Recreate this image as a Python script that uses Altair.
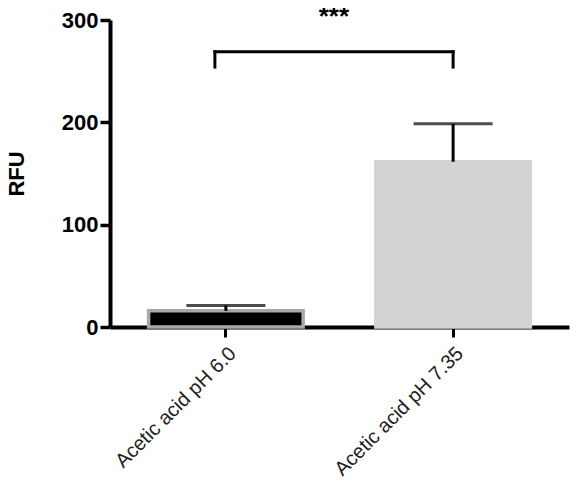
import altair as alt
import pandas as pd

categories = ["Acetic acid pH 6.0", "Acetic acid pH 7.35"]
means = [15.8, 161.5]
upper = [21.0, 198.5]
fills = ["#000000", "#d3d3d3"]
strokes = ["#a8a8a8", "#d3d3d3"]

bracket_y = [269]
bracket_low = [254]
stars = ["***"]
stars_y = [295.5]

df = pd.DataFrame({"cat": categories, "mean": means, "upper": upper,
                   "fill": fills, "stroke": strokes})
br = pd.DataFrame({"a": [categories[0]], "b": [categories[1]],
                   "y": bracket_y, "y2": bracket_low, "t": stars, "ty": stars_y})

xscale = alt.Scale(domain=categories, paddingInner=0.32, paddingOuter=0.17)
yscale = alt.Scale(domain=[0, 300], nice=False)

x = alt.X("cat:N", scale=xscale, sort=categories, title=None,
          axis=alt.Axis(labelAngle=-45, labelFontSize=20, labelFont="Liberation Sans",
                        labelColor="#222222", tickSize=10, tickWidth=3, tickColor="black",
                        domainWidth=4, domainColor="black", labelPadding=6,
                        labelAlign="right", labelBaseline="top"))
y = alt.Y("mean:Q", scale=yscale, title="RFU",
          axis=alt.Axis(values=[0, 100, 200, 300], grid=False, labelFontSize=22,
                        labelFontWeight="bold", labelFont="Liberation Sans",
                        labelColor="black", tickSize=10, tickWidth=3.5, tickColor="black",
                        domainWidth=4, domainColor="black", labelPadding=2,
                        titleFontSize=22, titleFontWeight="bold", titleFont="Liberation Sans",
                        titleColor="black", titlePadding=33))

base = alt.Chart(df)
bars = base.mark_bar(strokeWidth=3.5).encode(
    x=x, y=y,
    fill=alt.Fill("fill:N", scale=None),
    stroke=alt.Stroke("stroke:N", scale=None),
)
err = base.mark_rule(strokeWidth=3, color="black").encode(
    x=alt.X("cat:N", scale=xscale, sort=categories),
    y=alt.Y("mean:Q", scale=yscale),
    y2="upper:Q",
)
caps = base.mark_tick(thickness=3, size=79, color="black", orient="horizontal").encode(
    x=alt.X("cat:N", scale=xscale, sort=categories),
    y=alt.Y("upper:Q", scale=yscale),
)

bb = alt.Chart(br)
top = bb.mark_rule(strokeWidth=3, color="black", xOffset=-11, strokeCap="square").encode(
    x=alt.X("a:N", scale=xscale), x2="b:N",
    y=alt.Y("y:Q", scale=yscale),
)
leg1 = bb.mark_rule(strokeWidth=3, color="black", xOffset=-11, strokeCap="square").encode(
    x=alt.X("a:N", scale=xscale),
    y=alt.Y("y2:Q", scale=yscale), y2="y:Q",
)
leg2 = bb.mark_rule(strokeWidth=3, color="black", strokeCap="square").encode(
    x=alt.X("b:N", scale=xscale),
    y=alt.Y("y2:Q", scale=yscale), y2="y:Q",
)
txt = bb.mark_text(fontSize=26, fontWeight="bold", font="Liberation Sans",
                   baseline="alphabetic", align="center", xOffset=108, color="black").encode(
    x=alt.X("a:N", scale=xscale),
    y=alt.Y("ty:Q", scale=yscale),
    text="t:N",
)

chart = alt.layer(bars, err, caps, top, leg1, leg2, txt).properties(
    width=459, height=307,
    autosize=alt.AutoSizeParams(type="none"),
    padding={"left": 102, "top": 12, "right": 5, "bottom": 153},
    background="white",
).configure_view(stroke=None)

chart.save("out.html", embed_options={"renderer": "svg", "actions": False})
